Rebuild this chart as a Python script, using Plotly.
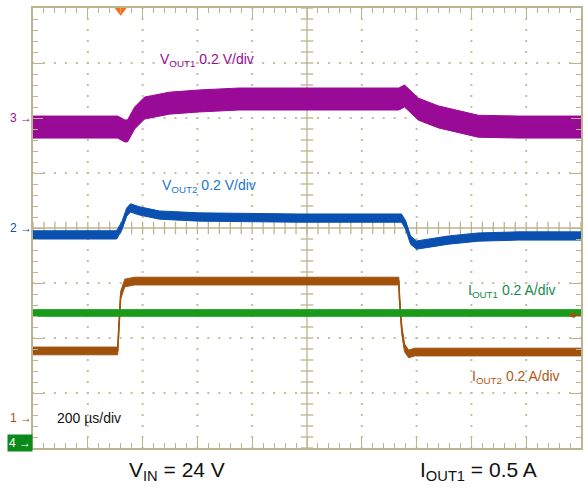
import numpy as np
import plotly.graph_objects as go

# ---------------- data (read from the scope capture) ----------------
# time in microseconds, 200 us/div, 10 divisions
vout1_t = [0, 309, 335, 345, 371, 407, 498, 607, 753, 971, 1335, 1356, 1371, 1407, 1480, 1553, 1625, 1771, 2000]
vout1_mv = [-33, -33, -47, -47, 0, 36, 54, 62, 69, 69, 69, 80, 66, 32, 4, -14, -30, -33, -33]

vout2_t = [0, 305, 324, 342, 356, 389, 462, 607, 971, 1345, 1360, 1378, 1400, 1444, 1516, 1625, 1771, 2000]
vout2_mv = [-25, -25, 7, 58, 73, 62, 47, 40, 36, 36, 11, -44, -62, -55, -44, -33, -29, -29]

iout2_t = [0, 309, 313, 320, 335, 371, 1335, 1338, 1346, 1356, 1371, 1393, 2000]
iout2_a = [0.244, 0.244, 0.32, 0.447, 0.491, 0.498, 0.498, 0.429, 0.32, 0.255, 0.233, 0.24, 0.24]

iout1_t = [0, 2000]
iout1_a = [0.473, 0.473]

# channel: scale per division, screen offset (div), ripple peak-to-peak
ch_names = ["VOUT1", "VOUT2", "IOUT2", "IOUT1"]
ch_scale = [200.0, 200.0, 0.2, 0.2]          # mV/div, mV/div, A/div, A/div
ch_offset = [6.0, 4.0, 0.545, 0.09]          # divisions from bottom
ch_ripple = [80.0, 30.0, 0.028, 0.024]       # peak-to-peak noise

# ---------------- style ----------------
GRID = "#bcb48f"
DOT = "#c4bd9f"
C_PURPLE = "#990a96"
C_BLUE = "#0a50b0"
C_BROWN = "#a0520c"
C_GREEN = "#1a9a1a"
FONT = "Liberation Sans, Arial, sans-serif"

fig = go.Figure()

# dotted grid
xs_minor = np.arange(0, 2000.001, 40)
ys_minor = np.arange(0, 8.001, 0.2)
dx, dy = [], []
for yv in [1, 2, 3, 5, 6, 7]:
    dx += list(xs_minor); dy += [yv] * len(xs_minor)
for xv in [200, 400, 600, 800, 1200, 1400, 1600, 1800]:
    dx += [xv] * len(ys_minor); dy += list(ys_minor)
fig.add_trace(go.Scatter(x=dx, y=dy, mode="markers", hoverinfo="skip",
                         marker=dict(symbol="square", size=2, color=DOT, line=dict(width=0))))

# center cross ticks
fig.add_trace(go.Scatter(x=list(xs_minor), y=[4] * len(xs_minor), mode="markers", hoverinfo="skip",
                         marker=dict(symbol="line-ns", size=9, line=dict(width=1.3, color=GRID))))
fig.add_trace(go.Scatter(x=[1000] * len(ys_minor), y=list(ys_minor), mode="markers", hoverinfo="skip",
                         marker=dict(symbol="line-ew", size=9, line=dict(width=1.3, color=GRID))))


def add_channel(t, v, idx, color):
    s, o, r = ch_scale[idx], ch_offset[idx], ch_ripple[idx]
    c = np.array(v) / s + o
    h = r / 2 / s
    fig.add_trace(go.Scatter(x=t, y=c - h, mode="lines", line=dict(color=color, width=1), hoverinfo="skip"))
    fig.add_trace(go.Scatter(x=t, y=c + h, mode="lines", fill="tonexty", fillcolor=color,
                             line=dict(color=color, width=1), hoverinfo="skip"))
    fig.add_trace(go.Scatter(x=t, y=c, mode="lines", line=dict(color=color, width=1.6), hoverinfo="skip"))


add_channel(iout2_t, iout2_a, 2, C_BROWN)
add_channel(iout1_t, iout1_a, 3, C_GREEN)
add_channel(vout2_t, vout2_mv, 1, C_BLUE)
add_channel(vout1_t, vout1_mv, 0, C_PURPLE)

# trigger position marker
fig.add_trace(go.Scatter(x=[320], y=[7.96], mode="markers", cliponaxis=False, hoverinfo="skip",
                         marker=dict(symbol="triangle-down", size=11, color="#ff6a13", line=dict(width=0))))

# center cross lines
fig.add_shape(type="line", x0=1000, x1=1000, y0=0, y1=8, line=dict(color=GRID, width=1.3), layer="below")
fig.add_shape(type="line", x0=0, x1=2000, y0=4, y1=4, line=dict(color=GRID, width=1.3), layer="below")

ann = []
# channel labels
ann.append(dict(x=455, y=7.055, text="V<sub>OUT1</sub> 0.2 V/div", font=dict(color=C_PURPLE, size=14)))
ann.append(dict(x=465, y=4.764, text="V<sub>OUT2</sub> 0.2 V/div", font=dict(color="#1a78c8", size=14)))
ann.append(dict(x=1582, y=2.855, text="I<sub>OUT1</sub> 0.2 A/div", font=dict(color="#168a50", size=14)))
ann.append(dict(x=1596, y=1.29, text="I<sub>OUT2</sub> 0.2 A/div", font=dict(color="#b05a14", size=14)))
ann.append(dict(x=80, y=0.545, text="200 \u00b5s/div", font=dict(color="#111111", size=14)))
for a in ann:
    a.update(xref="x", yref="y", xanchor="left", yanchor="middle", showarrow=False)
    a["font"]["family"] = FONT

# bottom captions
ann.append(dict(x=342, y=-0.052, xref="x", yref="paper", xanchor="left", yanchor="middle", showarrow=False,
                text="V<sub>IN</sub> = 24 V", font=dict(color="#111111", size=21, family=FONT)))
ann.append(dict(x=1404, y=-0.052, xref="x", yref="paper", xanchor="left", yanchor="middle", showarrow=False,
                text="I<sub>OUT1</sub> = 0.5 A", font=dict(color="#111111", size=21, family=FONT)))

# channel ground markers on the left
for txt, yv, col in [("3 \u2192", 6.0, C_PURPLE), ("2 \u2192", 4.0, C_BLUE), ("1 \u2192", 0.545, C_BROWN)]:
    ann.append(dict(x=0, y=yv, xref="x", yref="y", xanchor="right", yanchor="middle", showarrow=False,
                    xshift=1, text=txt, font=dict(color=col, size=12, family=FONT)))
ann.append(dict(x=0, y=0.09, xref="x", yref="y", xanchor="right", yanchor="middle", showarrow=False,
                xshift=0, text="4 \u2192", bgcolor="#0a8a1a", borderpad=1,
                font=dict(color="white", size=12, family=FONT)))

# trigger level arrow on the right
ann.append(dict(x=1953, y=2.418, xref="x", yref="y", ax=13, ay=0, text="", showarrow=True,
                arrowhead=2, arrowsize=1, arrowwidth=1.3, arrowcolor=C_BROWN, standoff=0))

fig.update_layout(
    width=587, height=489,
    margin=dict(l=33, r=4, t=8, b=41),
    paper_bgcolor="white", plot_bgcolor="white",
    showlegend=False,
    annotations=ann,
    xaxis=dict(range=[0, 2000], showgrid=False, zeroline=False, showticklabels=False,
               showline=True, linecolor=GRID, linewidth=1.5, mirror="allticks",
               ticks="inside", dtick=200, tick0=0, ticklen=10, tickwidth=1.3, tickcolor=GRID,
               minor=dict(dtick=40, tick0=0, ticks="inside", ticklen=5, tickwidth=1.3, tickcolor=GRID)),
    yaxis=dict(range=[0, 8], showgrid=False, zeroline=False, showticklabels=False,
               showline=True, linecolor=GRID, linewidth=1.5, mirror="allticks",
               ticks="inside", dtick=1, tick0=0, ticklen=10, tickwidth=1.3, tickcolor=GRID,
               minor=dict(dtick=0.2, tick0=0, ticks="inside", ticklen=5, tickwidth=1.3, tickcolor=GRID)),
)

fig.write_html("out.html", config={"displayModeBar": False},
               post_script="document.body.style.margin='0';document.body.style.padding='0';")
